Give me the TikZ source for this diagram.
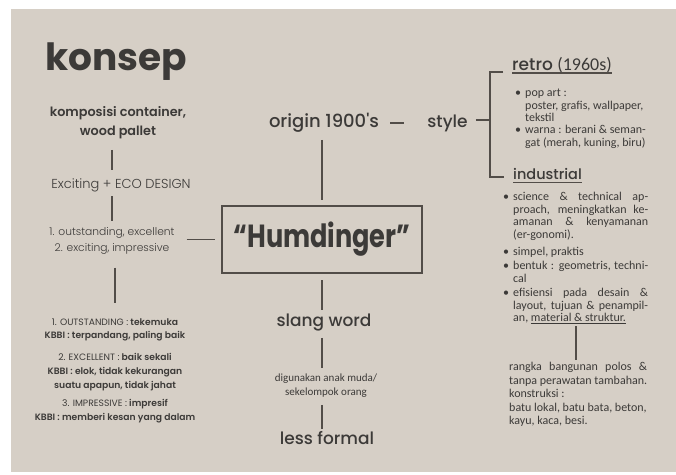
\documentclass[tikz,border=0pt]{standalone}
\usepackage{fontspec}
\usepackage{graphicx}
\setmainfont{Poppins}
\newfontfamily\crl{Carlito}
\IfFontExistsTF{Poppins Medium}{\newfontfamily\pmed{Poppins Medium}}{\newcommand\pmed{\normalfont}}
\IfFontExistsTF{Poppins SemiBold}{\newfontfamily\psemi{Poppins SemiBold}}{\newcommand\psemi{\bfseries}}
\IfFontExistsTF{Poppins Light}{\newfontfamily\plight{Poppins Light}}{\newcommand\plight{\normalfont}}
\newcommand\preg{\normalfont}
\newcommand\bul{\leavevmode\llap{\textbullet\hspace{4pt}}}
\newcommand\jl[1]{\makebox[135pt][s]{#1}}
\definecolor{bg}{RGB}{214,207,198}
\definecolor{ink}{RGB}{60,58,56}
\definecolor{wire}{RGB}{82,77,72}
\begin{document}
\begin{tikzpicture}[x=1pt,y=-1pt,
  txt/.style={inner sep=0pt, text=ink},
  link/.style={draw=wire, line width=1.6pt},
  uline/.style={draw=wire, line width=1.4pt},
  bigw/.style={txt, font=\pmed\fontsize{17}{20}\selectfont},
  rtxt/.style={txt, anchor=north west, align=left, font=\crl\fontsize{12}{12.6}\selectfont},
  defn/.style={txt, align=center, anchor=north, font=\psemi\fontsize{9.2}{13.8}\selectfont},
  hbox/.style={txt, draw=wire, line width=2pt, minimum width=200pt, minimum height=67pt, font=\bfseries\fontsize{32}{36}\selectfont}]
\fill[white] (0,0) rectangle (676,474);
\fill[bg] (11,9) rectangle (676,472);
\useasboundingbox (0,0) rectangle (676,474);

% left column
\node[txt, font=\bfseries\fontsize{37.5}{40}\selectfont] (konsep) at (116,61.5) {konsep};
\node[txt, align=center, font=\psemi\fontsize{12.8}{19}\selectfont] (komp) at (118,122.5) {komposisi container,\\wood pallet};
\node[txt, font=\plight\fontsize{13}{15}\selectfont] (exc) at (121,185) {Exciting + ECO DESIGN};
\node[txt, align=center, font=\plight\fontsize{10.7}{16}\selectfont] (out) at (112,241) {1. outstanding, excellent\\2. exciting, impressive};
\node[defn] (d1) at (115,318) {{\preg 1. OUTSTANDING :} tekemuka\\KBBI : terpandang, paling baik};
\node[defn] (d2) at (115,353) {{\preg 2. EXCELLENT :} baik sekali\\KBBI : elok, tidak kekurangan\\suatu apapun, tidak jahat};
\node[defn] (d3) at (115,399) {{\preg 3. IMPRESSIVE :} impresif\\KBBI : memberi kesan yang dalam};

% centre column
\node[hbox] (hum) at (322,239.5) {\scalebox{0.8}[1]{“Humdinger”}};
\node[bigw, font=\pmed\fontsize{18}{20}\selectfont] (origin) at (324,123) {origin 1900's};
\node[bigw] (style) at (447.5,123) {style};
\node[bigw] (slang) at (324,323) {slang word};
\node[txt, align=center, font=\crl\fontsize{11}{14}\selectfont] (dig) at (326,386) {digunakan anak muda/\\sekelompok orang};
\node[bigw] (less) at (327,438) {less formal};

% right column
\node[txt, anchor=base west, font=\pmed\fontsize{17}{18}\selectfont] (retro) at (512,70) {retro {\crl\fontsize{18}{18}\selectfont (1960s)}};
\node[rtxt] (r1) at (525,89) {\bul pop art :\\poster, grafis, wallpaper,\\tekstil};
\node[rtxt] (r2) at (525,125) {\bul warna : berani \& seman-\\gat (merah, kuning, biru)};
\node[txt, anchor=base west, font=\pmed\fontsize{14.5}{18}\selectfont] (ind) at (513,179) {industrial};
\node[rtxt] (i1) at (513,192) {\bul\jl{science \& technical ap-}\\\jl{proach, meningkatkan ke-}\\\jl{amanan \& kenyamanan}\\(er-gonomi).};
\node[rtxt] (i2) at (513,247) {\bul simpel, praktis};
\node[rtxt] (i3) at (513,261) {\bul\jl{bentuk : geometris, techni-}\\cal};
\node[rtxt] (i4) at (513,288) {\bul\jl{efisiensi pada desain \&}\\\jl{layout, tujuan \& penampil-}\\an, \underline{material \& struktur.}};
\node[rtxt, font=\crl\fontsize{12}{13.6}\selectfont] (rangka) at (509,362) {\makebox[138pt][s]{rangka bangunan polos \&}\\tanpa perawatan tambahan.\\konstruksi :\\batu lokal, batu bata, beton,\\kayu, kaca, besi.};

% underlines
\draw[uline] ([yshift=-3pt]retro.base west) -- ([yshift=-3pt]retro.base east);
\draw[uline] ([yshift=-3.5pt]ind.base west) -- ([yshift=-3.5pt]ind.base east);

% connectors
\draw[link, shorten <=11pt, shorten >=8pt] (komp.south -| out) -- (exc.north -| out);
\draw[link, shorten <=4.5pt, shorten >=6pt] (exc.south -| out) -- (out.north);
\draw[link, shorten <=13pt, shorten >=15pt] (out.south -| d1.north) -- (d1.north);
\draw[link, shorten <=12pt, shorten >=6pt] (out.east |- hum.west) -- (hum.west);
\draw[link, shorten <=7pt, shorten >=5pt] (origin.south -| hum) -- (hum.north);
\draw[link, shorten <=6pt, shorten >=4pt] (hum.south) -- (slang.north -| hum);
\draw[link, shorten <=6pt, shorten >=6pt] (slang.south -| hum) -- (dig.north -| hum);
\draw[link, shorten <=7pt, shorten >=2pt] (dig.south -| hum) -- (less.north -| hum);
\draw[link, shorten <=11pt, shorten >=23pt] (origin.east) -- (origin.east -| style.west);
\coordinate (brk) at (490,120);
\draw[link, shorten <=8pt] (style.east |- brk) -- (brk);
\draw[link] ([shift={(-9pt,-2pt)}]retro.base west) -| (brk) |- ([shift={(-9pt,2pt)}]ind.base west);
\coordinate (mat) at (576,326);
\draw[link, shorten >=2pt] (mat) -- (mat |- rangka.north);
\end{tikzpicture}
\end{document}
